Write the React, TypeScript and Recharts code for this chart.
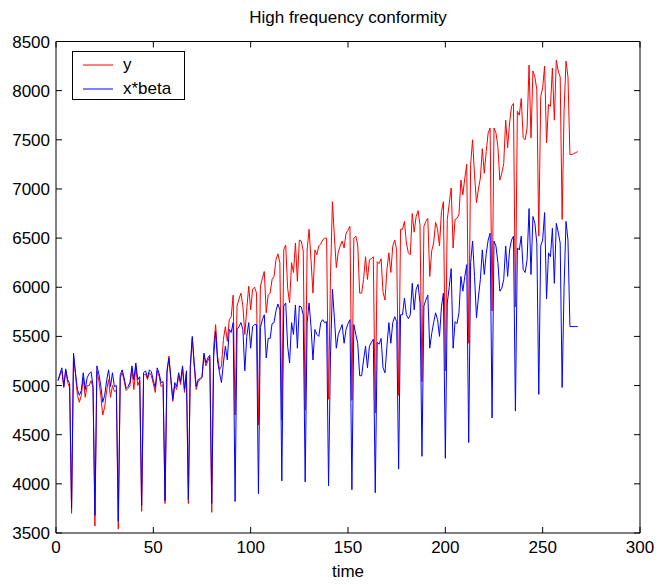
import React from 'react';
import { LineChart, Line, XAxis, YAxis, Legend } from 'recharts';

// y (red) and x*beta (blue), one value per time step
const yValues = [
  5050, 5100, 5150, 4980, 5150, 5030, 4980, 3700,
  5300, 5120, 4900, 4830, 4900, 5080, 4880, 5000, 5000, 5050, 4980, 3570,
  5150, 5050, 4900, 4700, 4780, 4950, 5060, 4880, 5000, 4940, 4950, 3540,
  5080, 5130, 5050, 4950, 4970, 5000, 5170, 4960, 5200, 5000, 5050, 3720,
  5100, 5120, 5060, 5130, 5100, 5020, 4930, 5150, 5090, 4990, 5010, 3800,
  5120, 5300, 5050, 4840, 5000, 4960, 5100, 5010, 5180, 4930, 5120, 3800,
  5180, 5480, 5200, 4960, 5040, 5060, 5080, 5310, 5200, 5250, 5290, 3710,
  5400, 5620, 5300, 5160, 5200, 5470, 5600, 5450, 5670, 5700, 5920, 4700,
  5810, 5880, 5940, 5810, 5520, 5780, 6010, 5770, 5980, 6000, 5940, 4600,
  6010, 6090, 6160, 5740, 5920, 5940, 6080, 6110, 6280, 6340, 6250, 4650,
  6380, 6430, 5990, 5840, 6250, 6150, 6450, 6060, 6480, 6470, 6370, 4750,
  6380, 6590, 6280, 5940, 6380, 6330, 6420, 6440, 6480, 6500, 6500, 4860,
  6100, 6870, 6520, 6200, 6360, 6420, 6470, 6400, 6550, 6580, 6620, 4850,
  6500, 6520, 6430, 5940, 5940, 6080, 6310, 6080, 6280, 6290, 6310, 4720,
  6260, 6240, 6290, 5950, 5870, 6180, 6350, 6150, 6420, 6480, 6380, 4900,
  6590, 6590, 6670, 6450, 6350, 6330, 6750, 6560, 6720, 6780, 6630, 5040,
  6620, 6670, 6700, 6110, 6370, 6450, 6660, 6590, 6420, 6770, 6870, 5150,
  6690, 6850, 7010, 6400, 6690, 6700, 6740, 7090, 6940, 7110, 7250, 5430,
  7250, 7500, 7140, 6860, 7000, 7110, 7410, 7160, 7380, 7570, 7620, 5760,
  7620, 7570, 7430, 7090, 7160, 7260, 7700, 7420, 7670, 7840, 7870, 5800,
  7790, 7750, 7920, 7520, 7500, 7620, 8260, 7520, 8200, 8140, 8010, 6520,
  7940, 8030, 8250, 7470, 7860, 7840, 8230, 7700, 8310, 8200, 8140, 6690,
  7800, 8300, 8140, 7350, 7350, 7360, 7370, 7380,
];

const xBetaValues = [
  5050, 5120, 5180, 4990, 5170, 5060, 5020, 3750,
  5330, 5130, 4960, 4900, 4950, 5130, 4960, 5080, 5120, 5140, 5000, 3680,
  5200, 5120, 5000, 4830, 4900, 5050, 5160, 4990, 5130, 4990, 5000, 3620,
  5110, 5160, 5080, 4970, 4990, 5030, 5200, 5060, 5230, 5060, 5090, 3780,
  5130, 5150, 5080, 5160, 5140, 5050, 4980, 5180, 5120, 5030, 5040, 3830,
  5150, 5280, 5080, 4860, 5030, 4990, 5130, 5040, 5200, 4960, 5150, 3840,
  5200, 5500, 5230, 4990, 5060, 5070, 5090, 5330, 5230, 5280, 5310, 3800,
  5300, 5550, 5250, 5130, 5030, 5230, 5400, 5260, 5570, 5540, 5640, 3820,
  5570, 5600, 5640, 5570, 5150, 5500, 5640, 5380, 5600, 5620, 5620, 3900,
  5590, 5670, 5720, 5280, 5480, 5480, 5630, 5640, 5760, 5830, 5770, 4030,
  5810, 5840, 5400, 5230, 5640, 5520, 5820, 5380, 5810, 5800, 5720, 4020,
  5640, 5840, 5600, 5260, 5570, 5520, 5500, 5640, 5670, 5640, 5650, 3980,
  5300, 5980, 5690, 5380, 5520, 5570, 5620, 5430, 5570, 5630, 5670, 3940,
  5620, 5520, 5430, 5100, 5100, 5260, 5400, 5180, 5400, 5440, 5470, 3910,
  5440, 5420, 5480, 5180, 5130, 5400, 5640, 5430, 5640, 5700, 5650, 4150,
  5720, 5720, 5890, 5720, 5680, 5720, 6040, 5770, 5980, 6030, 5840, 4280,
  5810, 5870, 5920, 5380, 5530, 5640, 5740, 5670, 5500, 5800, 5940, 4260,
  5840, 6000, 6190, 5380, 5650, 5630, 5740, 6110, 5960, 6110, 6230, 4420,
  6250, 6470, 6110, 5690, 5900, 6080, 6380, 6130, 6340, 6480, 6550, 4670,
  6470, 6420, 6250, 5960, 5990, 6080, 6420, 6110, 6380, 6480, 6520, 4740,
  6400, 6380, 6520, 6180, 6150, 6280, 6800, 6130, 6720, 6650, 6450, 4910,
  6420, 6480, 6760, 5880, 6350, 6310, 6600, 6040, 6650, 6560, 6450, 4980,
  6000, 6670, 6480, 5600, 5600, 5600, 5600, 5600,
];

const seriesNames = ['y', 'x*beta'];
const xTicks = [0, 50, 100, 150, 200, 250, 300];
const yTicks = [3500, 4000, 4500, 5000, 5500, 6000, 6500, 7000, 7500, 8000, 8500];

const FONT = '"Liberation Sans", Arial, Helvetica, sans-serif';

const data = yValues.map((v, i) => ({ time: i + 1, y: v, xbeta: xBetaValues[i] }));

// matlab style ticks: drawn inside the box
const LeftTick = ({ x, y, payload }: any) => (
  <g>
    <line x1={x} y1={y} x2={x + 6} y2={y} stroke="#000" />
    <text x={x - 6} y={y + 6} textAnchor="end" fontSize={17} fontFamily={FONT} fill="#000">
      {payload.value}
    </text>
  </g>
);
const RightTick = ({ x, y }: any) => <line x1={x} y1={y} x2={x - 6} y2={y} stroke="#000" />;
const BottomTick = ({ x, y, payload }: any) => (
  <g>
    <line x1={x} y1={y} x2={x} y2={y - 6} stroke="#000" />
    <text x={x} y={y + 20} textAnchor="middle" fontSize={17} fontFamily={FONT} fill="#000">
      {payload.value}
    </text>
  </g>
);
const TopTick = ({ x, y }: any) => <line x1={x} y1={y} x2={x} y2={y + 6} stroke="#000" />;

const LegendBox = ({ payload }: any) => {
  const items = [...(payload || [])].sort(
    (a: any, b: any) => seriesNames.indexOf(a.value) - seriesNames.indexOf(b.value)
  );
  return (
    <div
      style={{
        width: 113,
        height: 49,
        border: '1px solid #000',
        background: '#fff',
        fontFamily: FONT,
        fontSize: 17,
        boxSizing: 'border-box',
        position: 'relative',
      }}
    >
      {items.map((p: any, i: number) => (
        <div key={p.value} style={{ position: 'absolute', left: 0, top: i === 0 ? 2 : 26, height: 22, display: 'flex', alignItems: 'center' }}>
          <svg width={40} height={22} style={{ display: 'block' }}>
            <line x1={10} y1={11} x2={40} y2={11} stroke={p.color} strokeWidth={1} />
          </svg>
          <span style={{ marginLeft: 10, lineHeight: '22px' }}>{p.value}</span>
        </div>
      ))}
    </div>
  );
};

export default function App() {
  return (
    <div style={{ position: 'absolute', left: 0, top: 0, width: 659, height: 585, background: '#fff' }}>
      <div style={{ position: 'absolute', left: 56, width: 584, top: 7, textAlign: 'center', fontFamily: FONT, fontSize: 17, lineHeight: '22px' }}>
        High frequency conformity
      </div>
      <LineChart width={659} height={585} data={data} margin={{ top: 40.5, right: 18, bottom: 0, left: 0 }}>
        <XAxis
          dataKey="time"
          type="number"
          domain={[0, 300]}
          ticks={xTicks}
          height={52}
          tickSize={0}
          tickMargin={0}
          tickLine={false}
          axisLine={{ stroke: '#000' }}
          tick={<BottomTick />}
          interval={0}
        />
        <XAxis
          xAxisId="top"
          dataKey="time"
          orientation="top"
          type="number"
          domain={[0, 300]}
          ticks={xTicks}
          height={1}
          tickSize={0}
          tickMargin={0}
          tickLine={false}
          axisLine={{ stroke: '#000' }}
          tick={<TopTick />}
          interval={0}
        />
        <YAxis
          type="number"
          domain={[3500, 8500]}
          ticks={yTicks}
          width={56}
          tickSize={0}
          tickMargin={0}
          tickLine={false}
          axisLine={{ stroke: '#000' }}
          tick={<LeftTick />}
          interval={0}
        />
        <YAxis
          yAxisId="right"
          orientation="right"
          type="number"
          domain={[3500, 8500]}
          ticks={yTicks}
          width={1}
          tickSize={0}
          tickMargin={0}
          tickLine={false}
          axisLine={{ stroke: '#000' }}
          tick={<RightTick />}
          interval={0}
        />
        <Legend
          layout="horizontal"
          verticalAlign="middle"
          align="center"
          content={<LegendBox />}
          wrapperStyle={{ left: 72, top: 51, width: 113, height: 49 }}
        />
        <Line
          xAxisId="top"
          yAxisId="right"
          type="linear"
          dataKey="y"
          name="y"
          stroke="#ff0000"
          strokeWidth={1}
          dot={false}
          isAnimationActive={false}
        />
        <Line type="linear" dataKey="xbeta" name="x*beta" stroke="#0000ff" strokeWidth={1} dot={false} isAnimationActive={false} />
      </LineChart>
      <div style={{ position: 'absolute', left: 56, width: 584, top: 561, textAlign: 'center', fontFamily: FONT, fontSize: 17, lineHeight: '22px' }}>
        time
      </div>
    </div>
  );
}
